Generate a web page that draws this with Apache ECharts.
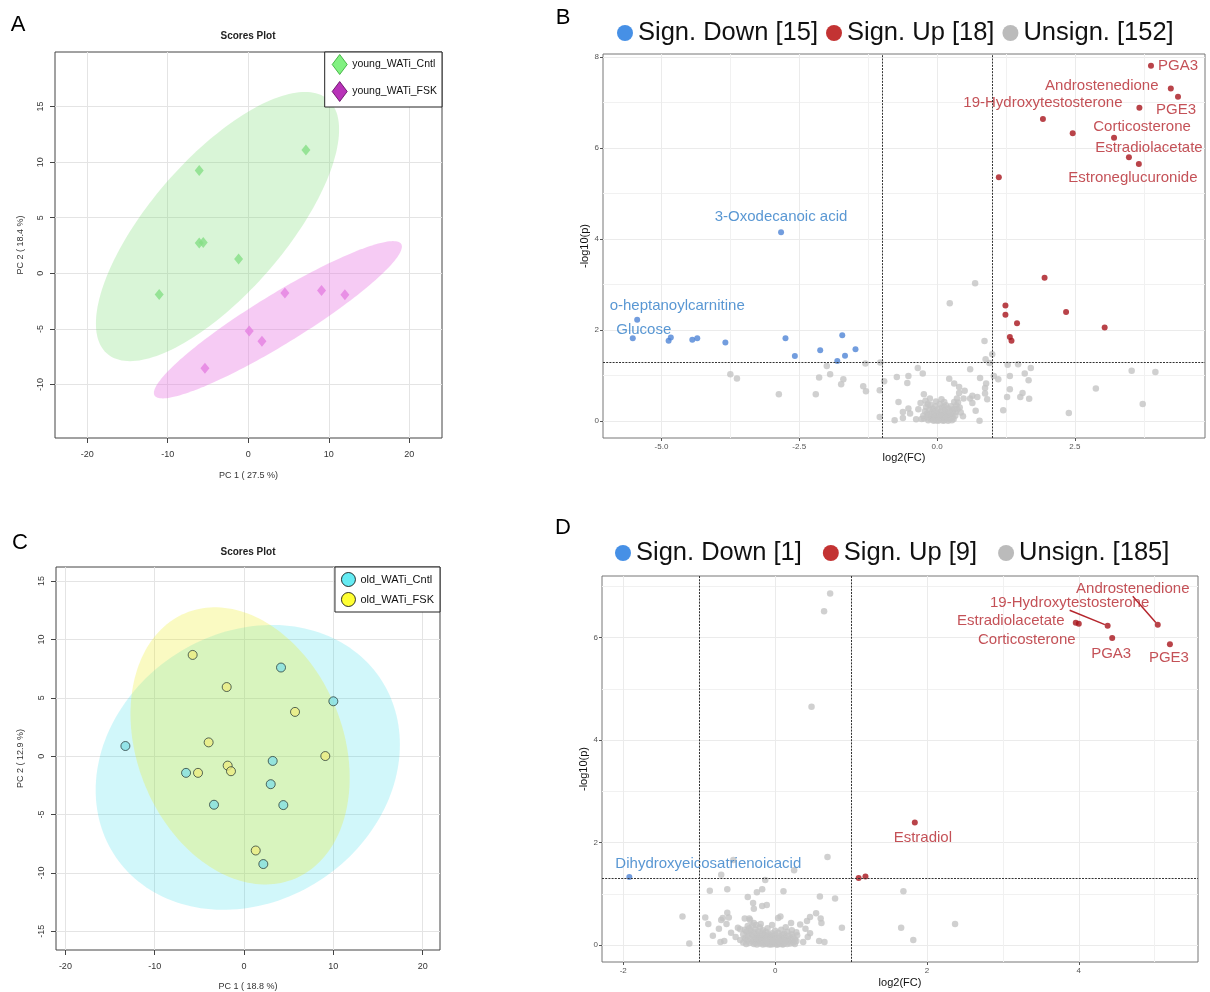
<!DOCTYPE html>
<html><head><meta charset="utf-8">
<script src="https://cdn.jsdelivr.net/npm/echarts@6/dist/echarts.min.js"></script>
<style>html,body{margin:0;padding:0;background:#fff}#c{width:1210px;height:992px}</style>
</head><body><div id="c"></div>
<script>
// ---------- Panel A (PCA young) ----------
const aCntl = [[7.16,11.1],[-6.09,9.25],[-6.09,2.72],[-5.59,2.78],[-1.2,1.29],[-11.06,-1.89]];
const aFsk = [[4.55,-1.77],[9.1,-1.53],[12.0,-1.92],[0.12,-5.18],[1.7,-6.1],[-5.38,-8.53]];
// confidence ellipses: centre x, centre y, x half-range, y half-range, correlation
const aEllipses = [[-3.82,4.21,15.1,12.1,0.72],[3.68,-4.17,15.4,7.07,0.93]];
const aXTicks = [-20,-10,0,10,20];
const aYTicks = [-10,-5,0,5,10,15];
// ---------- Panel C (PCA old) ----------
const cCntl = [[-13.28,0.87],[-6.49,-1.43],[-3.36,-4.16],[4.14,7.59],[10.0,4.70],[3.21,-0.41],[2.99,-2.40],[4.40,-4.19],[2.16,-9.24]];
const cFsk = [[-5.75,8.67],[-1.94,5.92],[5.71,3.79],[-3.96,1.18],[9.10,0.01],[-5.15,-1.43],[-1.83,-0.81],[-1.46,-1.29],[1.31,-8.08]];
const cEllipses = [[0.42,-0.96,17.03,12.2,0.16],[-0.44,0.88,12.27,11.87,-0.23]];
const cXTicks = [-20,-10,0,10,20];
const cYTicks = [-15,-10,-5,0,5,10,15];
// ---------- thresholds ----------
const fcThreshold = [-1, 1];
const pThreshold = 1.301;
// ---------- Panel B (volcano young) ----------
const bDown = [[-2.83,4.15],[-5.44,2.23],[-5.52,1.82],[-4.87,1.77],[-4.83,1.84],[-4.44,1.79],[-4.35,1.82],[-3.84,1.73],[-2.75,1.82],[-2.58,1.43],[-2.12,1.56],[-1.72,1.89],[-1.48,1.58],[-1.67,1.44],[-1.81,1.32]];
const bDownNames = ['3-Oxodecanoic acid','o-heptanoylcarnitine','Glucose'];
const bUp = [[3.88,7.81],[4.24,7.31],[4.37,7.13],[3.67,6.89],[1.92,6.64],[2.46,6.33],[3.21,6.23],[3.48,5.80],[3.66,5.65],[1.12,5.36],
  [1.95,3.15],[1.24,2.54],[1.24,2.34],[2.34,2.40],[1.45,2.15],[3.04,2.06],[1.32,1.85],[1.35,1.77]];
const bUpNames = ['PGA3','Androstenedione','PGE3','','19-Hydroxytestosterone','','Corticosterone','Estradiolacetate','Estroneglucuronide'];
const bUns = [
  [-3.75,1.03],[-3.63,0.94],[-2.87,0.59],[-2.20,0.59],[-2.14,0.96],[-2.00,1.21],[-1.94,1.03],[-1.74,0.81],[-1.70,0.92],[-1.34,0.77],
  [-1.29,0.66],[-1.30,1.27],[-1.03,1.29],[-0.96,0.88],[-1.04,0.68],[-1.04,0.09],[-0.73,0.97],[-0.52,0.99],[-0.54,0.84],[-0.35,1.17],
  [-0.70,0.42],[-0.77,0.02],[-0.62,0.07],[-0.62,0.20],[-0.52,0.28],[-0.49,0.17],[-0.38,0.04],[-0.34,0.26],[-0.26,1.05],[-0.24,0.59],
  [0.22,0.93],[0.31,0.83],[0.40,0.75],[0.50,0.67],[0.40,0.62],[0.60,1.14],[0.78,0.95],[0.89,0.83],[0.87,0.73],[0.87,0.61],
  [0.91,0.48],[0.73,0.53],[0.64,0.56],[0.60,0.50],[0.48,0.50],[0.64,0.40],[0.70,0.23],[0.47,0.11],[0.77,0.01],[0.13,0.42],
  [0.13,0.31],[0.31,0.42],[0.36,0.50],[0.35,0.35],[0.34,0.20],[0.28,0.09],[0.22,0.04],[-0.24,0.06],[-0.18,0.17],[0.69,3.03],
  [0.23,2.59],[0.86,1.76],[1.00,1.47],[0.88,1.36],[0.95,1.28],[1.03,0.99],[1.11,0.92],[1.28,1.24],[1.47,1.25],[1.70,1.17],
  [1.32,0.99],[1.59,1.05],[1.66,0.90],[1.32,0.70],[1.27,0.53],[1.55,0.62],[1.51,0.53],[1.67,0.49],[1.20,0.24],[2.39,0.18],
  [2.88,0.72],[3.53,1.11],[3.96,1.08],[3.73,0.38],
  [-0.28,0.05],[-0.25,0.12],[-0.22,0.22],[-0.2,0.31],[-0.18,0.08],[-0.16,0.02],[-0.15,0.14],[-0.14,0.26],[-0.12,0.36],[-0.11,0.05],
  [-0.1,0.19],[-0.09,0.1],[-0.08,0.28],[-0.07,0.03],[-0.06,0.15],[-0.05,0.22],[-0.04,0.08],[-0.03,0.33],[-0.02,0.12],[-0.01,0.02],
  [0.0,0.18],[0.01,0.06],[0.02,0.26],[0.03,0.1],[0.04,0.14],[0.05,0.03],[0.06,0.21],[0.07,0.08],[0.08,0.12],[0.09,0.3],
  [0.1,0.04],[0.11,0.17],[0.12,0.09],[0.13,0.02],[0.14,0.24],[0.15,0.13],[0.16,0.06],[0.17,0.19],[0.18,0.04],[0.19,0.11],
  [0.2,0.28],[0.21,0.16],[0.23,0.22],[0.24,0.07],[0.25,0.33],[0.26,0.13],[0.27,0.25],[0.29,0.18],[0.3,0.05],[0.32,0.28],
  [0.33,0.12],[0.37,0.26],[0.38,0.41],[0.41,0.3],[0.43,0.19],[-0.3,0.4],[-0.21,0.45],[-0.13,0.5],[0.05,0.38],[-0.02,0.43],
  [0.16,0.35],[0.08,0.48],[-0.06,0.01],[0.11,0.01],[0.2,0.01],[-0.17,0.38],[0.27,0.02],[0.02,0.01]];
const bXTicks = [-5,-2.5,0,2.5];
const bXMinor = [-3.75,-1.25,1.25,3.75];
const bYTicks = [0,2,4,6,8];
const bYMinor = [1,3,5,7];
// ---------- Panel D (volcano old) ----------
const dDown = [[-1.92,1.33]];
const dDownNames = ['Dihydroxyeicosatrienoicacid'];
const dUp = [[3.96,6.29],[4.0,6.27],[4.38,6.23],[5.04,6.25],[4.44,5.99],[5.20,5.87],[1.84,2.39],[1.10,1.31],[1.19,1.34]];
const dUpNames = ['Estradiolacetate','Corticosterone','19-Hydroxytestosterone','Androstenedione','PGA3','PGE3','Estradiol'];
const dUns = [
  [0.69,1.72],[-0.55,1.66],[0.25,1.46],[-0.71,1.37],[-0.13,1.27],[-0.86,1.06],[-0.63,1.09],[-0.17,1.09],[-0.24,1.03],[0.11,1.05],
  [-0.36,0.94],[0.59,0.95],[0.79,0.91],[-0.29,0.82],[-0.28,0.71],[-0.17,0.76],[-0.11,0.78],[-1.22,0.56],[-1.13,0.03],[-0.92,0.54],
  [-0.88,0.41],[-0.82,0.18],[-0.74,0.32],[-0.71,0.49],[-0.69,0.53],[-0.63,0.63],[-0.61,0.54],[-0.64,0.41],[-0.72,0.06],[-0.67,0.08],
  [-0.58,0.24],[-0.52,0.16],[-0.49,0.34],[-0.46,0.31],[-0.40,0.52],[-0.34,0.52],[-0.33,0.49],[-0.36,0.37],[-0.28,0.43],[-0.25,0.39],
  [-0.46,0.10],[-0.39,0.12],[0.07,0.56],[0.04,0.53],[0.21,0.43],[0.33,0.40],[0.42,0.47],[0.46,0.55],[0.54,0.62],[0.60,0.52],
  [0.61,0.43],[0.88,0.34],[0.40,0.32],[0.46,0.23],[0.43,0.16],[0.37,0.06],[0.58,0.08],[0.65,0.06],[0.29,0.19],[0.22,0.29],
  [1.69,1.05],[1.66,0.34],[1.82,0.10],[2.37,0.41],[0.725,6.86],[0.645,6.51],[0.48,4.65],
  [-0.42,0.05],[-0.42,0.21],[-0.40,0.30],[-0.40,0.14],[-0.38,0.02],[-0.38,0.26],[-0.36,0.18],[-0.36,0.09],
  [-0.34,0.33],[-0.34,0.04],[-0.34,0.22],[-0.32,0.12],[-0.32,0.28],[-0.30,0.07],[-0.30,0.19],[-0.30,0.38],
  [-0.28,0.02],[-0.28,0.15],[-0.28,0.25],[-0.26,0.10],[-0.26,0.31],[-0.26,0.05],[-0.24,0.20],[-0.24,0.13],[-0.24,0.01],
  [-0.22,0.08],[-0.22,0.27],[-0.22,0.16],[-0.20,0.03],[-0.20,0.11],[-0.20,0.22],[-0.20,0.35],
  [-0.18,0.06],[-0.18,0.18],[-0.18,0.13],[-0.16,0.01],[-0.16,0.09],[-0.16,0.24],[-0.16,0.29],
  [-0.14,0.04],[-0.14,0.15],[-0.14,0.20],[-0.12,0.07],[-0.12,0.12],[-0.12,0.02],[-0.12,0.26],
  [-0.10,0.10],[-0.10,0.17],[-0.10,0.05],[-0.10,0.33],[-0.08,0.01],[-0.08,0.14],[-0.08,0.21],
  [-0.06,0.08],[-0.06,0.03],[-0.06,0.18],[-0.06,0.12],[-0.04,0.05],[-0.04,0.23],[-0.04,0.10],[-0.04,0.39],
  [-0.02,0.02],[-0.02,0.13],[-0.02,0.16],[0.00,0.07],[0.00,0.04],[0.00,0.20],[0.00,0.11],[0.00,0.28],
  [0.02,0.01],[0.02,0.09],[0.02,0.15],[0.04,0.06],[0.04,0.12],[0.04,0.24],[0.04,0.03],
  [0.06,0.10],[0.06,0.17],[0.06,0.02],[0.08,0.05],[0.08,0.14],[0.08,0.30],[0.10,0.08],[0.10,0.01],[0.10,0.19],
  [0.12,0.11],[0.12,0.04],[0.12,0.22],[0.14,0.06],[0.14,0.15],[0.14,0.35],[0.16,0.02],[0.16,0.10],[0.16,0.26],
  [0.18,0.07],[0.18,0.18],[0.20,0.03],[0.20,0.13],[0.22,0.09],[0.22,0.21],[0.24,0.05],[0.24,0.16],
  [0.26,0.11],[0.26,0.02],[0.28,0.25],[0.28,0.08],
  [-0.05,0.01],[0.03,0.01],[0.11,0.02],[-0.15,0.03],[0.07,0.04],[-0.09,0.06],[0.01,0.12],[-0.03,0.08],[0.13,0.07],[-0.11,0.09],[0.05,0.09],[-0.19,0.41]];
const dXTicks = [-2,0,2,4];
const dXMinor = [-1,1,3,5];
const dYTicks = [0,2,4,6];
const dYMinor = [1,3,5,7];

// ---------- styling (label placement offsets in px, not data) ----------
const FONT = "'Liberation Sans', Arial, Helvetica, sans-serif";
const RED = '#a8141c', RED_TXT = '#b5262d', BLUE = '#4f84d6', BLUE_TXT = '#2f7dc8', GREY = '#c4c4c4';
const bUpOff = [[27,0],[-69,-3],[-2,13.5],null,[0,-16],null,[28,-11],[20,-9],[-6,14]];
const bDownOff = [[0,-15],[40,-14],[11,-9]];
const dUpOff = [[-65,-2],[-52,16],[-38,-23],[-25,-36],[-1,15.5],[-1,13.5],[8,15]];
const dUpLine = [false,false,true,true,false,false,false];
const dDownOff = [[79,-13]];

function ellipseSeries(ax, data, fills){
  return {type:'custom', xAxisIndex:ax, yAxisIndex:ax, silent:true, z:1, data:data, encode:{x:0,y:1},
    renderItem:function(params, api){
      const cx=api.value(0), cy=api.value(1), rx=api.value(2), ry=api.value(3), r=api.value(4);
      const phi=Math.acos(r); const pts=[];
      for(let i=0;i<180;i++){const t=i/180*Math.PI*2; pts.push(api.coord([cx+rx*Math.cos(t), cy+ry*Math.cos(t-phi)]));}
      return {type:'polygon', shape:{points:pts}, style:{fill:fills[params.dataIndex]}};
    }};
}
function pcaAxis(grid, min, max, ticks, name, gap, isY){
  return {type:'value', gridIndex:grid, min:min, max:max,
    axisLine:{show:false, onZero:false},
    axisTick:{show:true, length:5, customValues:ticks, lineStyle:{color:'#444'}},
    axisLabel:{customValues:ticks, fontSize:9, color:'#333', fontFamily:FONT, margin:isY?10:12, rotate:isY?90:0},
    splitLine:{show:true, lineStyle:{color:'#e4e4e4', width:1}},
    name:name, nameLocation:'middle', nameGap:gap, nameTextStyle:{fontSize:9, color:'#333', fontFamily:FONT}};
}
function volAxis(grid, min, max, ticks, name, gap, fmt, isY){
  return {type:'value', gridIndex:grid, min:min, max:max,
    axisLine:{show:false, onZero:false},
    axisTick:{show:true, length:3, customValues:ticks, lineStyle:{color:'#555'}},
    axisLabel:{customValues:ticks, fontSize:8, color:'#555', fontFamily:FONT, margin:isY?4:5, formatter:fmt},
    splitLine:{show:true, lineStyle:{color:'#ebebeb', width:1}},
    name:name, nameLocation:'middle', nameGap:gap, nameTextStyle:{fontSize:11, color:'#111', fontFamily:FONT}};
}
function minorAxis(grid, min, max, ticks){
  return {type:'value', gridIndex:grid, min:min, max:max,
    axisLine:{show:false, onZero:false}, axisTick:{show:false, customValues:ticks},
    axisLabel:{show:false, customValues:ticks},
    splitLine:{show:true, lineStyle:{color:'#f1f1f1', width:1}}};
}
function labeled(points, names, offs, lines, name, ax, color, txt, z){
  return {type:'scatter', name:name, xAxisIndex:ax, yAxisIndex:ax, symbolSize:6, z:z,
    itemStyle:{color:color},
    label:{show:false, position:'inside', formatter:'{b}', fontSize:15, color:txt, fontFamily:FONT, textBorderWidth:0},
    labelLine:{show:false},
    data:points.map(function(p,i){
      const o={value:p, name:names[i]||''};
      if(names[i]){o.label={show:true}; if(lines && lines[i]) o.labelLine={show:true, length2:0, lineStyle:{color:txt, width:1.5}};}
      return o;
    }),
    labelLayout:function(params){const o=offs[params.dataIndex]; return o?{dx:o[0], dy:o[1]}:{};}
  };
}
function thresholdLines(){
  return {silent:true, symbol:['none','none'], label:{show:false}, animation:false,
    lineStyle:{color:'#333', type:[2,1.2], width:1},
    data: fcThreshold.map(function(v){return {xAxis:v};}).concat([{yAxis:pThreshold}])};
}
const nBDown='Sign. Down ['+bDown.length+']', nBUp='Sign. Up ['+bUp.length+']', nBUns='Unsign. ['+bUns.length+']';
const nDDown='Sign. Down ['+dDown.length+']', nDUp='Sign. Up ['+dUp.length+']', nDUns='Unsign. ['+dUns.length+']';

const gridBase = {show:true, borderWidth:1, backgroundColor:'rgba(0,0,0,0)', containLabel:false};
const option = {
  animation:false,
  grid:[
    Object.assign({left:55, top:52, width:387, height:386, borderColor:'#444'}, gridBase),
    Object.assign({left:603, top:54, width:602, height:384, borderColor:'#777'}, gridBase),
    Object.assign({left:56, top:567, width:384, height:385, borderColor:'#444'}, gridBase),
    Object.assign({left:602, top:576, width:596, height:386, borderColor:'#777'}, gridBase)
  ],
  xAxis:[
    pcaAxis(0, -24, 24.06, aXTicks, 'PC 1 ( 27.5 %)', 33, false),
    volAxis(1, -6.06, 4.86, bXTicks, 'log2(FC)', 14, function(v){return v.toFixed(1);}, false),
    minorAxis(1, -6.06, 4.86, bXMinor),
    pcaAxis(2, -21.05, 21.94, cXTicks, 'PC 1 ( 18.8 %)', 32, false),
    volAxis(3, -2.28, 5.57, dXTicks, 'log2(FC)', 15, null, false),
    minorAxis(3, -2.28, 5.57, dXMinor)
  ],
  yAxis:[
    pcaAxis(0, -14.8, 19.9, aYTicks, 'PC 2 ( 18.4 %)', 30, true),
    volAxis(1, -0.37, 8.07, bYTicks, '-log10(p)', 10, null, true),
    minorAxis(1, -0.37, 8.07, bYMinor),
    pcaAxis(2, -16.6, 16.2, cYTicks, 'PC 2 ( 12.9 %)', 31, true),
    volAxis(3, -0.33, 7.2, dYTicks, '-log10(p)', 8, null, true),
    minorAxis(3, -0.33, 7.2, dYMinor)
  ],
  legend:[
    {right:768, top:52, orient:'vertical', selectedMode:false, icon:'diamond', itemWidth:15, itemHeight:20, itemGap:6,
     padding:[2,5,5,7], borderColor:'#222', borderWidth:1, backgroundColor:'#fff',
     textStyle:{fontSize:10.5, fontFamily:FONT, color:'#111'},
     data:[{name:'young_WATi_Cntl', itemStyle:{color:'#62ee62', borderColor:'#2ca82c', borderWidth:1}},
           {name:'young_WATi_FSK', itemStyle:{color:'#a600a6', borderColor:'#5a005a', borderWidth:1}}]},
    {right:770, top:567, orient:'vertical', selectedMode:false, icon:'circle', itemWidth:14, itemHeight:14, itemGap:5,
     padding:[5,6,5,6], borderColor:'#222', borderWidth:1, backgroundColor:'#fff',
     textStyle:{fontSize:11, fontFamily:FONT, color:'#111'},
     data:[{name:'old_WATi_Cntl', itemStyle:{color:'#3fe6f0', borderColor:'#000', borderWidth:1}},
           {name:'old_WATi_FSK', itemStyle:{color:'#ffff00', borderColor:'#000', borderWidth:1}}]},
    {left:617, top:20, selectedMode:false, icon:'circle', itemWidth:16, itemHeight:16, itemGap:8, padding:0,
     textStyle:{fontSize:25.5, fontFamily:FONT, color:'#111'},
     data:[{name:nBDown, itemStyle:{color:'#1874e0'}},{name:nBUp, itemStyle:{color:'#b40000'}},{name:nBUns, itemStyle:{color:'#aaaaaa'}}]},
    {left:615, top:540, selectedMode:false, icon:'circle', itemWidth:16, itemHeight:16, itemGap:21, padding:0,
     textStyle:{fontSize:25.5, fontFamily:FONT, color:'#111'},
     data:[{name:nDDown, itemStyle:{color:'#1874e0'}},{name:nDUp, itemStyle:{color:'#b40000'}},{name:nDUns, itemStyle:{color:'#aaaaaa'}}]}
  ],
  graphic:[
    {type:'text', x:18, y:25, style:{text:'A', fontSize:22, fontFamily:FONT, fill:'#000', align:'center', verticalAlign:'middle'}},
    {type:'text', x:563, y:18, style:{text:'B', fontSize:22, fontFamily:FONT, fill:'#000', align:'center', verticalAlign:'middle'}},
    {type:'text', x:20, y:543, style:{text:'C', fontSize:22, fontFamily:FONT, fill:'#000', align:'center', verticalAlign:'middle'}},
    {type:'text', x:563, y:528, style:{text:'D', fontSize:22, fontFamily:FONT, fill:'#000', align:'center', verticalAlign:'middle'}},
    {type:'text', x:248, y:36, style:{text:'Scores Plot', fontSize:10, fontWeight:'bold', fontFamily:FONT, fill:'#222', align:'center', verticalAlign:'middle'}},
    {type:'text', x:248, y:552, style:{text:'Scores Plot', fontSize:10, fontWeight:'bold', fontFamily:FONT, fill:'#222', align:'center', verticalAlign:'middle'}}
  ],
  series:[
    ellipseSeries(0, aEllipses, ['rgba(120,220,110,0.28)','rgba(230,110,225,0.36)']),
    {type:'scatter', name:'young_WATi_Cntl', xAxisIndex:0, yAxisIndex:0, symbol:'diamond', symbolSize:[9,11], z:3,
     itemStyle:{color:'#86df86'}, data:aCntl},
    {type:'scatter', name:'young_WATi_FSK', xAxisIndex:0, yAxisIndex:0, symbol:'diamond', symbolSize:[9,11], z:3,
     itemStyle:{color:'#e57fe1'}, data:aFsk},
    ellipseSeries(3, cEllipses, ['rgba(0,210,230,0.18)','rgba(235,235,20,0.26)']),
    {type:'scatter', name:'old_WATi_Cntl', xAxisIndex:3, yAxisIndex:3, symbol:'circle', symbolSize:9, z:3,
     itemStyle:{color:'#84e0e4', borderColor:'#1e3030', borderWidth:0.9}, data:cCntl},
    {type:'scatter', name:'old_WATi_FSK', xAxisIndex:3, yAxisIndex:3, symbol:'circle', symbolSize:9, z:3,
     itemStyle:{color:'#ecec82', borderColor:'#1e3030', borderWidth:0.9}, data:cFsk},
    {type:'scatter', name:nBUns, xAxisIndex:1, yAxisIndex:1, symbolSize:6.5, z:2, itemStyle:{color:GREY}, data:bUns, markLine:thresholdLines()},
    labeled(bDown, bDownNames, bDownOff, null, nBDown, 1, BLUE, BLUE_TXT, 3),
    labeled(bUp, bUpNames, bUpOff, null, nBUp, 1, RED, RED_TXT, 3),
    {type:'scatter', name:nDUns, xAxisIndex:4, yAxisIndex:4, symbolSize:6.5, z:2, itemStyle:{color:GREY}, data:dUns, markLine:thresholdLines()},
    labeled(dDown, dDownNames, dDownOff, null, nDDown, 4, BLUE, BLUE_TXT, 3),
    labeled(dUp, dUpNames, dUpOff, dUpLine, nDUp, 4, RED, RED_TXT, 3)
  ]
};
const chart = echarts.init(document.getElementById('c'), null, {renderer:'canvas'});
chart.setOption(option);
</script></body></html>
